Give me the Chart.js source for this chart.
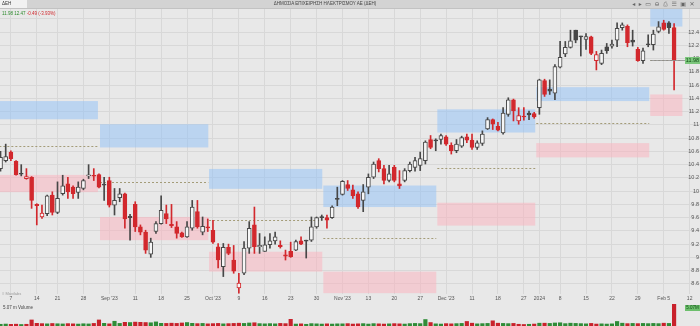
<!DOCTYPE html>
<html>
<head>
<meta charset="utf-8">
<script src="https://cdn.jsdelivr.net/npm/chart.js@4.4.1/dist/chart.umd.min.js"></script>
<style>
  html, body { margin: 0; padding: 0; background: #e8e8e8; }
  body { width: 700px; height: 326px; position: relative; overflow: hidden; font-family: 'Liberation Sans', Arial, sans-serif; }
  #priceWrap { position: absolute; left: 0; top: 0; width: 700px; height: 304px; }
  #volWrap { position: absolute; left: 0; top: 304px; width: 700px; height: 22px; }
  .topbar { position: absolute; left: 0; top: 0; width: 700px; height: 9px; background: #d3d3d3; border-bottom: 1px solid #c2c2c2; box-sizing: border-box; }
  .sym { position: absolute; left: 0; top: 0; width: 27px; height: 8px; background: #f1f1f1; font-size: 4.5px; line-height: 8px; padding-left: 2px; box-sizing: border-box; color: #333; }
  .title { position: absolute; left: 0; top: 0; width: 650px; text-align: center; font-size: 4.5px; line-height: 8px; color: #444; }
  .icons { position: absolute; right: 2px; top: 0; font-family: 'DejaVu Sans', sans-serif; font-size: 6px; line-height: 8px; color: #666; letter-spacing: 3.5px; }
  .quote { position: absolute; left: 2px; top: 11px; font-size: 4.5px; line-height: 5px; }
  .quote .g { color: #2d8a2d; }
  .quote .r { color: #d0262b; }
  .brand { position: absolute; left: 2px; top: 291px; font-size: 4px; color: #9a9a9a; }
  .volLabel { position: absolute; left: 3px; top: 305px; font-size: 4.5px; color: #444; }
</style>
</head>
<body>
<div id="priceWrap"><canvas id="chart"></canvas></div>
<div id="volWrap"><canvas id="chartVolume"></canvas></div>
<div class="topbar">
  <div class="sym">ΔΕΗ</div>
  <div class="title">ΔΗΜΟΣΙΑ ΕΠΙΧΕΙΡΗΣΗ ΗΛΕΚΤΡΙΣΜΟΥ ΑΕ (ΔΕΗ)</div>
  <div class="icons">◂▸▭⊖⎙☰▣✕</div>
</div>
<div class="quote"><span class="g">11.98 12.47</span> <span class="r">-0.49 (-3.93%)</span></div>
<div class="brand">≡ Mavilabs</div>
<div class="volLabel">5.07 m Volume</div>
<script>
// daily candles, Aug 3 2023 .. Feb 7 2024 (trading days)
const candleOpen = [
  10.34, 10.46, 10.59, 10.45, 10.265, 10.19, 10.21, 9.80, 9.61, 9.66,
  9.94, 9.68, 9.96, 10.11, 10.06, 9.98, 10.04, 10.23, 10.23, 10.25,
  10.10, 10.16, 9.79, 9.90, 9.96, 9.62, 9.80, 9.46, 9.38, 9.05,
  9.39, 9.51, 9.66, 9.50, 9.46, 9.37, 9.31, 9.44, 9.69, 9.38,
  9.45, 9.41, 9.16, 8.86, 9.15, 8.96, 8.54, 8.76, 9.14, 9.49,
  9.16, 9.09, 9.19, 9.25, 9.18, 9.04, 9.09, 9.11, 9.25, 9.25,
  9.26, 9.46, 9.605, 9.60, 9.60, 9.885, 9.95, 10.10, 10.02, 9.96,
  9.86, 10.06, 10.21, 10.46, 10.34, 10.16, 10.36, 10.11, 10.16, 10.31,
  10.36, 10.39, 10.46, 10.78, 10.765, 10.78, 10.82, 10.69, 10.61, 10.68,
  10.82, 10.77, 10.66, 10.72, 10.94, 11.08, 10.98, 10.88, 11.16, 11.38,
  11.06, 11.13, 11.18, 11.17, 11.26, 11.67, 11.54, 11.48, 11.87, 12.07,
  12.17, 12.43, 12.335, 12.29, 12.33, 11.97, 11.93, 12.18, 12.19, 12.28,
  12.47, 12.49, 12.28, 12.14, 11.97, 12.215, 12.21, 12.41, 12.54, 12.54,
  12.47
]
const candleHigh = [
  10.60, 10.71, 10.61, 10.46, 10.40, 10.34, 10.22, 9.81, 9.79, 9.94,
  9.99, 10.14, 10.24, 10.21, 10.08, 10.14, 10.18, 10.40, 10.34, 10.26,
  10.21, 10.21, 10.04, 10.04, 9.97, 9.65, 9.84, 9.49, 9.41, 9.29,
  9.54, 9.93, 9.79, 9.80, 9.54, 9.38, 9.54, 9.86, 9.86, 9.61,
  9.58, 9.56, 9.21, 9.21, 9.20, 9.18, 8.76, 9.24, 9.54, 9.76,
  9.36, 9.31, 9.36, 9.38, 9.25, 9.11, 9.23, 9.26, 9.31, 9.26,
  9.61, 9.61, 9.64, 9.64, 9.78, 10.06, 10.16, 10.16, 10.09, 9.99,
  10.10, 10.26, 10.44, 10.49, 10.39, 10.39, 10.39, 10.31, 10.34, 10.44,
  10.51, 10.59, 10.76, 10.84, 10.79, 10.86, 10.84, 10.73, 10.78, 10.83,
  10.86, 10.86, 10.76, 10.91, 11.11, 11.09, 11.04, 11.26, 11.41, 11.39,
  11.26, 11.26, 11.21, 11.19, 11.69, 11.69, 11.68, 11.91, 12.26, 12.26,
  12.43, 12.43, 12.34, 12.38, 12.34, 12.11, 12.13, 12.23, 12.28, 12.54,
  12.54, 12.51, 12.43, 12.17, 12.16, 12.36, 12.43, 12.56, 12.58, 12.56,
  12.53
]
const candleLow = [
  10.30, 10.44, 10.46, 10.24, 10.23, 10.18, 9.74, 9.49, 9.59, 9.63,
  9.64, 9.66, 9.94, 9.89, 9.89, 9.89, 10.02, 10.19, 10.16, 10.05,
  9.86, 9.76, 9.64, 9.84, 9.44, 9.26, 9.39, 9.34, 9.06, 9.00,
  9.36, 9.50, 9.51, 9.45, 9.29, 9.30, 9.30, 9.41, 9.44, 9.34,
  9.39, 9.21, 8.84, 8.71, 9.04, 8.76, 8.46, 8.74, 9.06, 9.06,
  9.06, 9.09, 9.14, 9.20, 9.14, 8.96, 9.00, 9.10, 9.19, 8.99,
  9.24, 9.44, 9.56, 9.44, 9.59, 9.78, 9.94, 10.01, 9.89, 9.74,
  9.69, 9.96, 10.19, 10.29, 10.11, 10.14, 10.14, 10.04, 10.14, 10.29,
  10.30, 10.31, 10.41, 10.64, 10.61, 10.71, 10.69, 10.56, 10.58, 10.66,
  10.73, 10.63, 10.63, 10.69, 10.93, 10.93, 10.91, 10.86, 11.13, 11.06,
  11.01, 11.07, 11.08, 11.10, 11.16, 11.43, 11.46, 11.38, 11.86, 12.03,
  12.16, 12.24, 12.04, 12.14, 12.06, 11.83, 11.91, 12.08, 12.16, 12.18,
  12.43, 12.18, 12.19, 11.96, 11.93, 12.18, 12.13, 12.39, 12.43, 12.38,
  11.53
]
const candleClose = [
  10.51, 10.52, 10.49, 10.25, 10.255, 10.22, 9.86, 9.78, 9.67, 9.93,
  9.68, 9.89, 10.08, 9.99, 9.96, 10.06, 10.16, 10.24, 10.225, 10.06,
  10.09, 9.79, 9.86, 9.96, 9.58, 9.60, 9.46, 9.38, 9.11, 9.23,
  9.51, 9.71, 9.58, 9.48, 9.36, 9.31, 9.46, 9.76, 9.46, 9.47,
  9.445, 9.23, 8.96, 9.15, 9.06, 8.79, 8.61, 9.14, 9.44, 9.16,
  9.18, 9.19, 9.25, 9.31, 9.16, 9.02, 9.01, 9.24, 9.20, 9.245,
  9.46, 9.60, 9.60, 9.56, 9.76, 9.875, 10.15, 10.04, 9.93, 9.76,
  9.99, 10.21, 10.41, 10.34, 10.16, 10.26, 10.16, 10.08, 10.31, 10.41,
  10.46, 10.49, 10.74, 10.66, 10.76, 10.84, 10.71, 10.61, 10.71, 10.81,
  10.77, 10.66, 10.73, 10.86, 11.08, 11.01, 10.92, 11.18, 11.38, 11.21,
  11.14, 11.12, 11.15, 11.12, 11.68, 11.46, 11.51, 11.88, 12.02, 12.17,
  12.27, 12.28, 12.33, 12.335, 12.08, 12.06, 12.08, 12.12, 12.22, 12.46,
  12.51, 12.24, 12.25, 11.97, 12.12, 12.21, 12.37, 12.48, 12.44, 12.47,
  11.98
]
// volume in millions of shares
const volumeM = [
  0.40, 0.45, 0.38, 0.42, 0.35, 0.40, 1.40, 0.62, 0.55, 0.50,
  0.58, 0.52, 0.48, 0.55, 0.50, 0.45, 0.52, 0.48, 0.60, 1.40,
  0.62, 0.50, 1.10, 0.60, 0.85, 0.80, 0.90, 0.85, 0.80, 0.75,
  0.95, 0.62, 0.60, 0.65, 0.60, 0.70, 0.80, 0.62, 0.55, 0.60,
  0.50, 0.55, 0.60, 0.50, 0.55, 0.60, 0.65, 0.60, 0.70, 0.75,
  0.55, 0.50, 0.55, 0.50, 0.60, 0.55, 1.55, 0.45, 0.50, 0.40,
  0.55, 0.50, 0.45, 0.50, 0.45, 0.50, 0.50, 0.55, 0.45, 0.50,
  0.55, 0.45, 0.55, 0.50, 0.45, 0.50, 0.55, 0.50, 0.45, 0.55,
  0.60, 0.55, 1.50, 0.80, 0.50, 0.45, 0.55, 0.50, 0.55, 0.60,
  1.05, 0.65, 0.50, 0.55, 0.60, 1.20, 0.65, 0.60, 0.55, 0.60,
  0.40, 0.35, 0.40, 0.45, 0.65, 0.65, 0.60, 0.70, 0.75, 0.55,
  0.65, 0.60, 0.55, 0.50, 0.60, 0.45, 0.50, 0.45, 0.50, 1.05,
  0.65, 0.55, 0.60, 0.55, 0.60, 0.55, 0.60, 0.55, 0.65, 0.60,
  5.07
]

// x axis: candle index of each Monday tick and its label
const tickIndex = [2, 7, 11, 16, 21, 26, 31, 36, 41, 46, 51, 56, 61, 66, 71, 76, 81, 86, 91, 96, 101, 104, 108, 113, 118, 123, 128, 133]
const tickLabels = ['7', '14', '21', '28', "Sep '23", '11', '18', '25', "Oct '23", '9', '16', '23', '30', "Nov '23", '13', '20', '27', "Dec '23", '11', '18', '27', '2024', '8', '15', '22', '29', 'Feb 5', '12']
const priceTicks = [8.6, 8.8, 9, 9.2, 9.4, 9.6, 9.8, 10, 10.2, 10.4, 10.6, 10.8, 11, 11.2, 11.4, 11.6, 11.8, 12, 12.2, 12.4, 12.6]

// monthly zones (x in candle index units)
const zoneFrom = [-1, 19.2, 40.25, 62.3, 84.3, 103.4, 125.4]
const zoneTo = [18.8, 40.1, 62.1, 84.1, 103.2, 125.2, 131.6]
const blueLow = [11.085, 10.66, 10.035, 9.76, 10.885, 11.36, 12.485]
const blueHigh = [11.36, 11.01, 10.335, 10.085, 11.235, 11.57, 12.8]
const pinkLow = [9.985, 9.26, 8.785, 8.46, 9.48, 10.51, 11.135]
const pinkHigh = [10.245, 9.61, 9.085, 8.785, 9.825, 10.725, 11.46]
const midLevel = [10.675, 10.135, 9.57, 9.285, 10.345, 11.035, 11.985]

const RED = '#d2282d'
const DARK = '#474747'
const HOLLOW = '#f6f6f6'
const GRID = '#d8d8d8'
const X_MIN = -0.1
const X_MAX = 135.0

const isUp = candleClose.map((c, i) => c >= (i > 0 ? candleClose[i - 1] : candleOpen[i]))
const lineColor = isUp.map((u) => (u ? DARK : RED))
const bodyFill = candleClose.map((c, i) => (c > candleOpen[i] ? HOLLOW : lineColor[i]))

const zonesPlugin = {
  id: 'zones',
  beforeDatasetsDraw(chart) {
    const { ctx, chartArea, scales: { x, y } } = chart
    ctx.save()
    ctx.beginPath()
    ctx.rect(chartArea.left, chartArea.top, chartArea.width, chartArea.height)
    ctx.clip()
    zoneFrom.forEach((from, i) => {
      const x0 = x.getPixelForValue(from)
      const x1 = x.getPixelForValue(zoneTo[i])
      ctx.fillStyle = 'rgba(150, 195, 245, 0.55)'
      ctx.fillRect(x0, y.getPixelForValue(blueHigh[i]), x1 - x0, y.getPixelForValue(blueLow[i]) - y.getPixelForValue(blueHigh[i]))
      ctx.fillStyle = 'rgba(250, 180, 192, 0.55)'
      ctx.fillRect(x0, y.getPixelForValue(pinkHigh[i]), x1 - x0, y.getPixelForValue(pinkLow[i]) - y.getPixelForValue(pinkHigh[i]))
      const ym = Math.round(y.getPixelForValue(midLevel[i])) + 0.5
      ctx.strokeStyle = '#a49c78'
      ctx.lineWidth = 1
      ctx.setLineDash([2, 2])
      ctx.beginPath()
      ctx.moveTo(x0, ym)
      ctx.lineTo(x1, ym)
      ctx.stroke()
    })
    ctx.restore()
  },
  afterDraw(chart) {
    const { ctx, scales: { x, y } } = chart
    ctx.save()
    ctx.font = '5.5px "Liberation Sans", Arial, sans-serif'
    ctx.fillStyle = '#555'
    ctx.textAlign = 'right'
    ctx.textBaseline = 'middle'
    priceTicks.filter((v) => v <= 12.4).forEach((v) => {
      ctx.fillText(String(+v.toFixed(1)), 699, y.getPixelForValue(v))
    })
    // last price line and label
    const last = candleClose[candleClose.length - 1]
    const yp = Math.round(y.getPixelForValue(last)) + 0.5
    ctx.strokeStyle = '#8c8c8c'
    ctx.lineWidth = 0.8
    ctx.beginPath()
    ctx.moveTo(x.getPixelForValue(zoneFrom[zoneFrom.length - 1]), yp)
    ctx.lineTo(686, yp)
    ctx.stroke()
    ctx.fillStyle = '#7cc67c'
    ctx.fillRect(685, yp - 3.5, 15, 7)
    ctx.fillStyle = '#124d17'
    ctx.textAlign = 'center'
    ctx.fillText(last.toFixed(2), 692.5, yp)
    ctx.restore()
  },
}

new Chart(document.getElementById('chart'), {
  type: 'bar',
  data: {
    datasets: [
      {
        label: 'wick',
        data: candleLow.map((l, i) => ({ x: i, y: [l, candleHigh[i]] })),
        backgroundColor: lineColor,
        barThickness: 1,
        grouped: false,
        order: 2,
      },
      {
        label: 'body',
        data: candleOpen.map((o, i) => ({ x: i, y: [Math.min(o, candleClose[i]), Math.max(o, candleClose[i])] })),
        backgroundColor: bodyFill,
        borderColor: lineColor,
        borderWidth: 1,
        borderSkipped: false,
        barThickness: 4,
        minBarLength: 1,
        grouped: false,
        order: 1,
      },
    ],
  },
  options: {
    responsive: true,
    maintainAspectRatio: false,
    animation: false,
    events: [],
    layout: { padding: { top: 9, left: 0, right: 0, bottom: 0 } },
    plugins: { legend: { display: false }, tooltip: { enabled: false } },
    scales: {
      x: {
        type: 'linear',
        offset: false,
        min: X_MIN,
        max: X_MAX,
        afterBuildTicks: (scale) => {
          scale.ticks = tickIndex.map((v) => ({ value: v }))
        },
        ticks: {
          autoSkip: false,
          maxRotation: 0,
          padding: 2,
          color: '#555',
          font: { size: 5, family: 'Liberation Sans' },
          callback: (value) => tickLabels[tickIndex.indexOf(value)],
        },
        grid: { color: GRID, drawTicks: false, offset: false },
        border: { display: false },
      },
      y: {
        position: 'right',
        min: 8.447,
        max: 12.75,
        afterBuildTicks: (scale) => {
          scale.ticks = priceTicks.map((v) => ({ value: v }))
        },
        afterFit: (scale) => {
          scale.width = 0
        },
        ticks: { display: false },
        grid: { color: GRID, drawTicks: false },
        border: { display: false },
      },
    },
  },
  plugins: [zonesPlugin],
})

const volumeLabelPlugin = {
  id: 'volumeLabel',
  afterDraw(chart) {
    const { ctx } = chart
    ctx.save()
    ctx.fillStyle = '#6cbf6c'
    ctx.fillRect(685, 1, 15, 6)
    ctx.fillStyle = '#124d17'
    ctx.font = '4.5px "Liberation Sans", Arial, sans-serif'
    ctx.textAlign = 'center'
    ctx.textBaseline = 'middle'
    ctx.fillText(volumeM[volumeM.length - 1].toFixed(2) + 'M', 692.5, 4)
    ctx.restore()
  },
}

new Chart(document.getElementById('chartVolume'), {
  type: 'bar',
  data: {
    datasets: [
      {
        label: 'Volume',
        data: volumeM.map((v, i) => ({ x: i, y: v })),
        backgroundColor: isUp.map((u) => (u ? '#2f8c37' : '#c9212b')),
        barThickness: 3.5,
      },
    ],
  },
  options: {
    responsive: true,
    maintainAspectRatio: false,
    animation: false,
    events: [],
    layout: { padding: 0 },
    plugins: { legend: { display: false }, tooltip: { enabled: false } },
    scales: {
      x: { type: 'linear', offset: false, min: X_MIN, max: X_MAX, display: false },
      y: { min: 0, max: 5.1, display: false },
    },
  },
  plugins: [volumeLabelPlugin],
})
</script>
</body>
</html>
